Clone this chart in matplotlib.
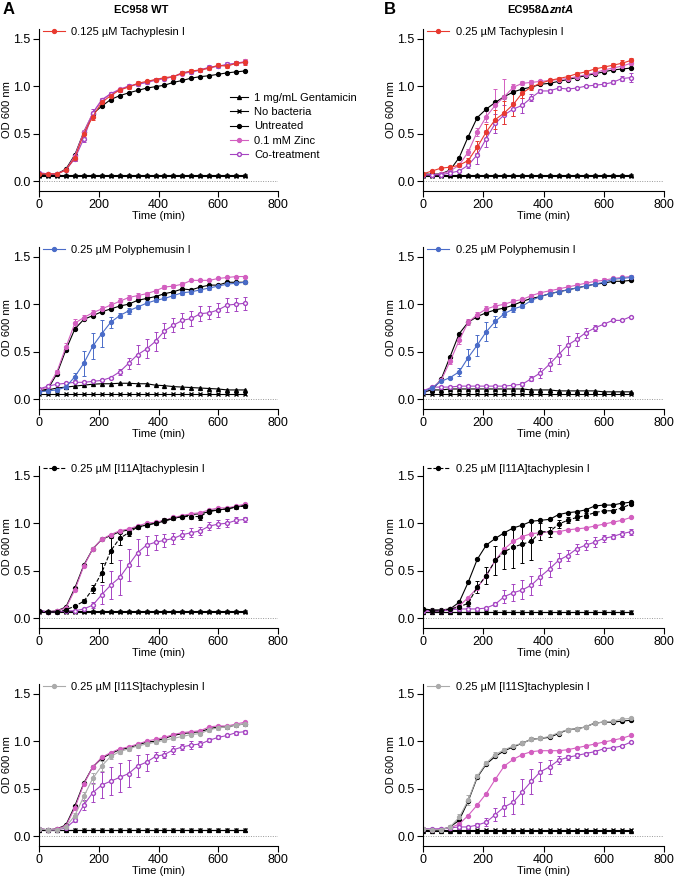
import matplotlib.pyplot as plt
from matplotlib.lines import Line2D

plt.rcParams['font.family'] = ['Liberation Sans', 'DejaVu Sans']
plt.rcParams['font.size'] = 8

time_min = [0, 30, 60, 90, 120, 150, 180, 210, 240, 270, 300, 330,
            360, 390, 420, 450, 480, 510, 540, 570, 600, 630, 660, 690]

legend_labels = ["1 mg/mL Gentamicin", "No bacteria", "Untreated", "0.1 mM Zinc", "Co-treatment"]

# ---- A1: EC958 WT, tachyplesin I
a1_genta = [0.07, 0.07, 0.07, 0.07, 0.07, 0.07, 0.07, 0.07, 0.07, 0.07, 0.07, 0.07,
            0.07, 0.07, 0.07, 0.07, 0.07, 0.07, 0.07, 0.07, 0.07, 0.07, 0.07, 0.07]
a1_nobact = [0.06, 0.06, 0.06, 0.06, 0.06, 0.06, 0.06, 0.06, 0.06, 0.06, 0.06, 0.06,
             0.06, 0.06, 0.06, 0.06, 0.06, 0.06, 0.06, 0.06, 0.06, 0.06, 0.06, 0.06]
a1_untreated = [0.07, 0.07, 0.08, 0.13, 0.28, 0.52, 0.71, 0.79, 0.86, 0.90, 0.93, 0.955,
                0.98, 0.995, 1.01, 1.04, 1.06, 1.085, 1.10, 1.11, 1.125, 1.14, 1.15, 1.16]
a1_zinc = [0.09, 0.08, 0.08, 0.12, 0.27, 0.52, 0.72, 0.86, 0.92, 0.97, 1.00, 1.02,
           1.04, 1.06, 1.08, 1.10, 1.13, 1.15, 1.17, 1.19, 1.21, 1.22, 1.24, 1.26]
a1_cotreat = [0.09, 0.08, 0.08, 0.12, 0.24, 0.45, 0.72, 0.85, 0.92, 0.96, 1.00, 1.02,
              1.04, 1.07, 1.08, 1.10, 1.14, 1.15, 1.17, 1.20, 1.21, 1.23, 1.24, 1.25]
a1_cotreat_err = [0.01, 0.01, 0.01, 0.01, 0.02, 0.04, 0.04, 0.03, 0.02, 0.02, 0.02, 0.02,
                  0.02, 0.02, 0.02, 0.02, 0.02, 0.02, 0.02, 0.02, 0.02, 0.02, 0.02, 0.02]
a1_peptide = [0.08, 0.08, 0.08, 0.12, 0.25, 0.50, 0.68, 0.83, 0.90, 0.96, 0.99, 1.03,
              1.05, 1.07, 1.09, 1.10, 1.14, 1.16, 1.17, 1.19, 1.22, 1.21, 1.24, 1.25]
a1_peptide_err = [0.01, 0.01, 0.01, 0.01, 0.03, 0.03, 0.03, 0.03, 0.03, 0.02, 0.02, 0.02,
                  0.02, 0.02, 0.02, 0.02, 0.02, 0.02, 0.02, 0.02, 0.02, 0.02, 0.02, 0.03]

# ---- B1: EC958 zntA, tachyplesin I
b1_genta = [0.07, 0.07, 0.07, 0.07, 0.07, 0.07, 0.07, 0.07, 0.07, 0.07, 0.07, 0.07,
            0.07, 0.07, 0.07, 0.07, 0.07, 0.07, 0.07, 0.07, 0.07, 0.07, 0.07, 0.07]
b1_nobact = [0.06, 0.06, 0.06, 0.06, 0.06, 0.06, 0.06, 0.06, 0.06, 0.06, 0.06, 0.06,
             0.06, 0.06, 0.06, 0.06, 0.06, 0.06, 0.06, 0.06, 0.06, 0.06, 0.06, 0.06]
b1_untreated = [0.08, 0.075, 0.08, 0.12, 0.25, 0.47, 0.67, 0.76, 0.83, 0.89, 0.94, 0.97,
                0.99, 1.02, 1.03, 1.05, 1.07, 1.09, 1.11, 1.13, 1.15, 1.17, 1.18, 1.19]
b1_zinc = [0.07, 0.07, 0.08, 0.11, 0.17, 0.31, 0.52, 0.68, 0.80, 0.89, 0.99, 1.03,
           1.04, 1.05, 1.06, 1.07, 1.08, 1.10, 1.12, 1.14, 1.17, 1.19, 1.21, 1.24]
b1_zinc_err = [0.01, 0.01, 0.01, 0.01, 0.01, 0.03, 0.04, 0.06, 0.17, 0.19, 0.03, 0.02,
               0.02, 0.02, 0.02, 0.02, 0.02, 0.02, 0.02, 0.02, 0.02, 0.02, 0.02, 0.02]
b1_cotreat = [0.07, 0.07, 0.07, 0.09, 0.11, 0.17, 0.28, 0.45, 0.61, 0.70, 0.76, 0.80,
              0.88, 0.95, 0.95, 0.98, 0.97, 0.98, 1.00, 1.01, 1.02, 1.04, 1.08, 1.09]
b1_cotreat_err = [0.01, 0.01, 0.01, 0.01, 0.01, 0.03, 0.10, 0.09, 0.10, 0.10, 0.07, 0.08,
                  0.04, 0.02, 0.02, 0.02, 0.01, 0.01, 0.01, 0.02, 0.02, 0.02, 0.03, 0.05]
b1_peptide = [0.08, 0.11, 0.14, 0.15, 0.17, 0.22, 0.36, 0.52, 0.65, 0.72, 0.81, 0.93,
              0.99, 1.03, 1.06, 1.08, 1.10, 1.13, 1.15, 1.18, 1.20, 1.22, 1.24, 1.27]
b1_peptide_err = [0.01, 0.01, 0.01, 0.01, 0.02, 0.03, 0.06, 0.08, 0.10, 0.12, 0.12, 0.05,
                  0.03, 0.02, 0.02, 0.02, 0.02, 0.02, 0.02, 0.02, 0.02, 0.02, 0.03, 0.03]

# ---- A2: EC958 WT, polyphemusin I
a2_genta = [0.08, 0.10, 0.12, 0.13, 0.14, 0.15, 0.16, 0.165, 0.165, 0.17, 0.17, 0.165,
            0.165, 0.15, 0.145, 0.135, 0.13, 0.125, 0.12, 0.115, 0.11, 0.10, 0.10, 0.10]
a2_nobact = [0.06, 0.06, 0.06, 0.06, 0.06, 0.06, 0.06, 0.06, 0.06, 0.06, 0.06, 0.06,
             0.06, 0.06, 0.06, 0.06, 0.06, 0.06, 0.06, 0.06, 0.06, 0.06, 0.06, 0.06]
a2_untreated = [0.09, 0.11, 0.27, 0.52, 0.74, 0.84, 0.88, 0.92, 0.95, 0.98, 1.00, 1.04,
                1.06, 1.08, 1.11, 1.13, 1.16, 1.15, 1.18, 1.20, 1.20, 1.23, 1.23, 1.23]
a2_zinc = [0.10, 0.13, 0.29, 0.55, 0.80, 0.86, 0.91, 0.95, 0.99, 1.03, 1.07, 1.09,
           1.11, 1.14, 1.18, 1.19, 1.21, 1.25, 1.25, 1.25, 1.27, 1.28, 1.29, 1.29]
a2_zinc_err = [0.01, 0.01, 0.02, 0.04, 0.04, 0.03, 0.03, 0.03, 0.03, 0.03, 0.03, 0.03,
               0.02, 0.02, 0.02, 0.02, 0.02, 0.01, 0.01, 0.01, 0.01, 0.01, 0.01, 0.01]
a2_cotreat = [0.11, 0.14, 0.16, 0.17, 0.18, 0.18, 0.19, 0.20, 0.23, 0.29, 0.38, 0.47,
              0.53, 0.61, 0.72, 0.78, 0.83, 0.85, 0.90, 0.91, 0.94, 0.99, 1.00, 1.01]
a2_cotreat_err = [0.01, 0.01, 0.01, 0.01, 0.01, 0.01, 0.01, 0.01, 0.01, 0.03, 0.06, 0.10,
                  0.10, 0.10, 0.08, 0.07, 0.08, 0.08, 0.08, 0.07, 0.07, 0.07, 0.07, 0.07]
a2_peptide = [0.08, 0.09, 0.10, 0.13, 0.24, 0.38, 0.56, 0.69, 0.81, 0.88, 0.93, 0.97,
              1.01, 1.04, 1.06, 1.09, 1.12, 1.13, 1.15, 1.17, 1.19, 1.21, 1.22, 1.23]
a2_peptide_err = [0.01, 0.01, 0.01, 0.02, 0.04, 0.13, 0.14, 0.14, 0.06, 0.03, 0.03, 0.02,
                  0.02, 0.02, 0.02, 0.02, 0.02, 0.02, 0.02, 0.02, 0.01, 0.01, 0.01, 0.01]

# ---- B2: EC958 zntA, polyphemusin I
b2_genta = [0.08, 0.10, 0.10, 0.11, 0.11, 0.11, 0.11, 0.11, 0.11, 0.11, 0.11, 0.11,
            0.10, 0.10, 0.10, 0.09, 0.09, 0.09, 0.09, 0.09, 0.08, 0.08, 0.08, 0.08]
b2_nobact = [0.06, 0.06, 0.06, 0.06, 0.06, 0.06, 0.06, 0.06, 0.06, 0.06, 0.06, 0.06,
             0.06, 0.06, 0.06, 0.06, 0.06, 0.06, 0.06, 0.06, 0.06, 0.06, 0.06, 0.06]
b2_untreated = [0.08, 0.10, 0.21, 0.45, 0.69, 0.81, 0.87, 0.91, 0.94, 0.96, 0.99, 1.03,
                1.06, 1.08, 1.11, 1.13, 1.15, 1.17, 1.19, 1.21, 1.22, 1.24, 1.24, 1.25]
b2_zinc = [0.08, 0.12, 0.20, 0.40, 0.62, 0.81, 0.89, 0.95, 0.98, 1.00, 1.03, 1.05,
           1.09, 1.12, 1.14, 1.16, 1.18, 1.20, 1.22, 1.24, 1.25, 1.27, 1.28, 1.29]
b2_zinc_err = [0.01, 0.01, 0.01, 0.03, 0.04, 0.03, 0.03, 0.03, 0.03, 0.02, 0.02, 0.02,
               0.02, 0.02, 0.02, 0.02, 0.02, 0.02, 0.02, 0.02, 0.02, 0.02, 0.02, 0.02]
b2_cotreat = [0.09, 0.13, 0.13, 0.13, 0.14, 0.14, 0.14, 0.14, 0.14, 0.14, 0.15, 0.16,
              0.22, 0.28, 0.37, 0.47, 0.57, 0.63, 0.70, 0.75, 0.79, 0.83, 0.83, 0.87]
b2_cotreat_err = [0.01, 0.01, 0.01, 0.01, 0.01, 0.01, 0.01, 0.01, 0.01, 0.01, 0.01, 0.02,
                  0.03, 0.05, 0.07, 0.10, 0.10, 0.07, 0.05, 0.03, 0.01, 0.01, 0.01, 0.01]
b2_peptide = [0.08, 0.12, 0.19, 0.23, 0.29, 0.44, 0.57, 0.71, 0.82, 0.90, 0.95, 0.98,
              1.04, 1.08, 1.11, 1.13, 1.15, 1.17, 1.19, 1.21, 1.23, 1.26, 1.27, 1.28]
b2_peptide_err = [0.01, 0.01, 0.01, 0.02, 0.04, 0.09, 0.11, 0.10, 0.06, 0.03, 0.03, 0.02,
                  0.02, 0.02, 0.02, 0.02, 0.02, 0.02, 0.02, 0.02, 0.02, 0.02, 0.02, 0.02]

# ---- A3: EC958 WT, [I11A]tachyplesin I
a3_genta = [0.08, 0.08, 0.08, 0.08, 0.08, 0.08, 0.08, 0.08, 0.08, 0.08, 0.08, 0.08,
            0.08, 0.08, 0.08, 0.08, 0.08, 0.08, 0.08, 0.08, 0.08, 0.08, 0.08, 0.08]
a3_nobact = [0.07, 0.07, 0.07, 0.07, 0.07, 0.07, 0.07, 0.07, 0.07, 0.07, 0.07, 0.07,
             0.07, 0.07, 0.07, 0.07, 0.07, 0.07, 0.07, 0.07, 0.07, 0.07, 0.07, 0.07]
a3_untreated = [0.08, 0.07, 0.08, 0.12, 0.32, 0.56, 0.73, 0.83, 0.87, 0.91, 0.93, 0.96,
                0.98, 1.00, 1.02, 1.05, 1.07, 1.09, 1.10, 1.12, 1.14, 1.15, 1.17, 1.19]
a3_zinc = [0.08, 0.07, 0.08, 0.11, 0.30, 0.55, 0.73, 0.83, 0.88, 0.92, 0.94, 0.97,
           1.00, 1.01, 1.03, 1.06, 1.08, 1.10, 1.11, 1.14, 1.16, 1.16, 1.18, 1.20]
a3_cotreat = [0.08, 0.07, 0.07, 0.08, 0.08, 0.10, 0.14, 0.25, 0.35, 0.43, 0.56, 0.69,
              0.77, 0.80, 0.82, 0.84, 0.88, 0.90, 0.92, 0.97, 0.99, 1.00, 1.03, 1.04]
a3_cotreat_err = [0.01, 0.01, 0.01, 0.01, 0.01, 0.01, 0.03, 0.10, 0.15, 0.18, 0.17, 0.14,
                  0.10, 0.08, 0.07, 0.06, 0.05, 0.05, 0.04, 0.04, 0.04, 0.04, 0.03, 0.03]
a3_peptide = [0.08, 0.07, 0.07, 0.09, 0.13, 0.18, 0.31, 0.48, 0.71, 0.84, 0.90, 0.96,
              0.98, 1.00, 1.03, 1.05, 1.07, 1.07, 1.07, 1.13, 1.14, 1.15, 1.17, 1.18]
a3_peptide_err = [0.01, 0.01, 0.01, 0.01, 0.01, 0.02, 0.04, 0.10, 0.13, 0.07, 0.03, 0.02,
                  0.02, 0.02, 0.02, 0.02, 0.02, 0.03, 0.04, 0.02, 0.02, 0.02, 0.02, 0.02]

# ---- B3: EC958 zntA, [I11A]tachyplesin I
b3_genta = [0.07, 0.07, 0.07, 0.07, 0.07, 0.07, 0.07, 0.07, 0.07, 0.07, 0.07, 0.07,
            0.07, 0.07, 0.07, 0.07, 0.07, 0.07, 0.07, 0.07, 0.07, 0.07, 0.07, 0.07]
b3_nobact = [0.07, 0.07, 0.07, 0.07, 0.07, 0.07, 0.07, 0.07, 0.07, 0.07, 0.07, 0.07,
             0.07, 0.07, 0.07, 0.07, 0.07, 0.07, 0.07, 0.07, 0.07, 0.07, 0.07, 0.07]
b3_untreated = [0.10, 0.09, 0.09, 0.10, 0.17, 0.38, 0.62, 0.77, 0.84, 0.90, 0.95, 0.98,
                1.02, 1.03, 1.04, 1.09, 1.11, 1.12, 1.14, 1.18, 1.19, 1.19, 1.21, 1.22]
b3_zinc = [0.08, 0.08, 0.08, 0.10, 0.13, 0.22, 0.32, 0.45, 0.61, 0.73, 0.81, 0.86,
           0.89, 0.90, 0.91, 0.91, 0.93, 0.94, 0.95, 0.97, 0.99, 1.01, 1.03, 1.06]
b3_cotreat = [0.08, 0.08, 0.08, 0.09, 0.10, 0.10, 0.10, 0.11, 0.15, 0.23, 0.27, 0.30,
              0.35, 0.44, 0.52, 0.61, 0.66, 0.73, 0.77, 0.80, 0.84, 0.86, 0.89, 0.91]
b3_cotreat_err = [0.01, 0.01, 0.01, 0.01, 0.01, 0.01, 0.01, 0.01, 0.02, 0.07, 0.09, 0.10,
                  0.10, 0.09, 0.08, 0.08, 0.06, 0.05, 0.05, 0.05, 0.04, 0.03, 0.03, 0.03]
b3_peptide = [0.10, 0.08, 0.08, 0.10, 0.12, 0.16, 0.33, 0.45, 0.61, 0.70, 0.75, 0.78,
              0.81, 0.91, 0.91, 0.99, 1.03, 1.06, 1.08, 1.11, 1.13, 1.13, 1.16, 1.20]
b3_peptide_err = [0.01, 0.01, 0.01, 0.01, 0.01, 0.03, 0.06, 0.09, 0.15, 0.18, 0.22, 0.20,
                  0.20, 0.09, 0.05, 0.04, 0.03, 0.03, 0.03, 0.02, 0.01, 0.01, 0.01, 0.01]

# ---- A4: EC958 WT, [I11S]tachyplesin I
a4_genta = [0.07, 0.07, 0.07, 0.07, 0.07, 0.07, 0.07, 0.07, 0.07, 0.07, 0.07, 0.07,
            0.07, 0.07, 0.07, 0.07, 0.07, 0.07, 0.07, 0.07, 0.07, 0.07, 0.07, 0.07]
a4_nobact = [0.07, 0.07, 0.07, 0.07, 0.07, 0.07, 0.07, 0.07, 0.07, 0.07, 0.07, 0.07,
             0.07, 0.07, 0.07, 0.07, 0.07, 0.07, 0.07, 0.07, 0.07, 0.07, 0.07, 0.07]
a4_untreated = [0.08, 0.07, 0.08, 0.12, 0.32, 0.56, 0.73, 0.82, 0.87, 0.91, 0.93, 0.96,
                0.99, 1.00, 1.03, 1.06, 1.08, 1.09, 1.10, 1.13, 1.15, 1.15, 1.17, 1.18]
a4_zinc = [0.08, 0.07, 0.08, 0.11, 0.30, 0.55, 0.73, 0.83, 0.88, 0.92, 0.94, 0.97,
           1.00, 1.02, 1.04, 1.07, 1.09, 1.10, 1.11, 1.15, 1.16, 1.16, 1.18, 1.20]
a4_cotreat = [0.08, 0.07, 0.07, 0.09, 0.17, 0.33, 0.46, 0.54, 0.58, 0.62, 0.66, 0.74,
              0.78, 0.84, 0.86, 0.91, 0.94, 0.96, 0.97, 1.01, 1.04, 1.06, 1.09, 1.10]
a4_cotreat_err = [0.01, 0.01, 0.01, 0.01, 0.02, 0.05, 0.10, 0.14, 0.15, 0.15, 0.14, 0.12,
                  0.09, 0.05, 0.04, 0.04, 0.03, 0.04, 0.03, 0.02, 0.02, 0.02, 0.02, 0.02]
a4_peptide = [0.08, 0.07, 0.07, 0.10, 0.22, 0.42, 0.61, 0.74, 0.84, 0.89, 0.92, 0.95,
              0.97, 0.99, 1.01, 1.03, 1.05, 1.07, 1.08, 1.12, 1.14, 1.15, 1.17, 1.18]
a4_peptide_err = [0.01, 0.01, 0.01, 0.01, 0.03, 0.05, 0.06, 0.05, 0.03, 0.02, 0.02, 0.02,
                  0.02, 0.02, 0.02, 0.02, 0.02, 0.02, 0.02, 0.02, 0.02, 0.02, 0.02, 0.02]

# ---- B4: EC958 zntA, [I11S]tachyplesin I
b4_genta = [0.06, 0.06, 0.06, 0.06, 0.06, 0.06, 0.06, 0.06, 0.06, 0.06, 0.06, 0.06,
            0.06, 0.06, 0.06, 0.06, 0.06, 0.06, 0.06, 0.06, 0.06, 0.06, 0.06, 0.06]
b4_nobact = [0.07, 0.07, 0.07, 0.07, 0.07, 0.07, 0.07, 0.07, 0.07, 0.07, 0.07, 0.07,
             0.07, 0.07, 0.07, 0.07, 0.07, 0.07, 0.07, 0.07, 0.07, 0.07, 0.07, 0.07]
b4_untreated = [0.08, 0.07, 0.07, 0.10, 0.17, 0.37, 0.62, 0.76, 0.84, 0.90, 0.94, 0.98,
                1.02, 1.03, 1.04, 1.08, 1.12, 1.13, 1.15, 1.19, 1.20, 1.20, 1.21, 1.22]
b4_zinc = [0.08, 0.07, 0.08, 0.09, 0.13, 0.22, 0.33, 0.45, 0.60, 0.74, 0.81, 0.86,
           0.89, 0.90, 0.90, 0.90, 0.91, 0.93, 0.95, 0.97, 0.99, 1.01, 1.03, 1.06]
b4_cotreat = [0.08, 0.08, 0.08, 0.09, 0.10, 0.10, 0.12, 0.15, 0.23, 0.31, 0.36, 0.47,
              0.58, 0.68, 0.73, 0.80, 0.83, 0.85, 0.87, 0.89, 0.92, 0.93, 0.95, 0.99]
b4_cotreat_err = [0.01, 0.01, 0.01, 0.01, 0.01, 0.01, 0.02, 0.04, 0.07, 0.10, 0.12, 0.13,
                  0.13, 0.10, 0.07, 0.04, 0.03, 0.03, 0.02, 0.02, 0.01, 0.01, 0.01, 0.01]
b4_peptide = [0.08, 0.07, 0.07, 0.10, 0.20, 0.38, 0.63, 0.77, 0.86, 0.91, 0.95, 0.98,
              1.02, 1.03, 1.05, 1.09, 1.12, 1.13, 1.15, 1.19, 1.20, 1.21, 1.23, 1.24]
b4_peptide_err = [0.01, 0.01, 0.01, 0.01, 0.04, 0.05, 0.03, 0.02, 0.03, 0.02, 0.01, 0.01,
                  0.01, 0.01, 0.01, 0.01, 0.01, 0.01, 0.01, 0.01, 0.01, 0.01, 0.01, 0.01]

peptide_labels = ["0.125 µM Tachyplesin I", "0.25 µM Tachyplesin I",
                  "0.25 µM Polyphemusin I", "0.25 µM Polyphemusin I",
                  "0.25 µM [I11A]tachyplesin I", "0.25 µM [I11A]tachyplesin I",
                  "0.25 µM [I11S]tachyplesin I", "0.25 µM [I11S]tachyplesin I"]

RED = '#e8392f'
BLUE = '#4a6cc8'
GRAY = '#ababab'
ZINC = '#d35fc0'
COT = '#a544c2'

peptide_styles = [(RED, '-'), (RED, '-'), (BLUE, '-'), (BLUE, '-'),
                  ('black', '--'), ('black', '--'), (GRAY, '-'), (GRAY, '-')]

panels = [
    (a1_genta, a1_nobact, a1_untreated, a1_zinc, None, a1_cotreat, a1_cotreat_err, a1_peptide, a1_peptide_err),
    (b1_genta, b1_nobact, b1_untreated, b1_zinc, b1_zinc_err, b1_cotreat, b1_cotreat_err, b1_peptide, b1_peptide_err),
    (a2_genta, a2_nobact, a2_untreated, a2_zinc, a2_zinc_err, a2_cotreat, a2_cotreat_err, a2_peptide, a2_peptide_err),
    (b2_genta, b2_nobact, b2_untreated, b2_zinc, b2_zinc_err, b2_cotreat, b2_cotreat_err, b2_peptide, b2_peptide_err),
    (a3_genta, a3_nobact, a3_untreated, a3_zinc, None, a3_cotreat, a3_cotreat_err, a3_peptide, a3_peptide_err),
    (b3_genta, b3_nobact, b3_untreated, b3_zinc, None, b3_cotreat, b3_cotreat_err, b3_peptide, b3_peptide_err),
    (a4_genta, a4_nobact, a4_untreated, a4_zinc, None, a4_cotreat, a4_cotreat_err, a4_peptide, a4_peptide_err),
    (b4_genta, b4_nobact, b4_untreated, b4_zinc, None, b4_cotreat, b4_cotreat_err, b4_peptide, b4_peptide_err),
]

W, H = 674, 885
fig = plt.figure(figsize=(W / 100, H / 100), dpi=100)

# axes boxes in pixels: (left, right) per column, bottom per row
col_x = [(39, 278), (423, 664)]
row_bottom = [191, 409, 628, 846]
ax_h = 162

eb_kw = dict(lw=0.8, ms=2.8, capsize=1.5, elinewidth=0.7, capthick=0.7)


def handle(color, marker, ls='-', mfc=None):
    return Line2D([], [], color=color, marker=marker, ls=ls, lw=0.8, ms=2.8,
                  mfc=mfc if mfc else color)


for i, (genta, nobact, untr, zinc, zinc_err, cot, cot_err, pep, pep_err) in enumerate(panels):
    row, col = i // 2, i % 2
    x0, x1 = col_x[col]
    yb = row_bottom[row]
    ax = fig.add_axes([x0 / W, 1 - yb / H, (x1 - x0) / W, ax_h / H])

    ax.axhline(0, color='#999999', ls=(0, (1, 1.5)), lw=0.7, zorder=0)
    ax.errorbar(time_min, genta, color='black', marker='^', **eb_kw)
    ax.errorbar(time_min, nobact, color='black', marker='x', **eb_kw)
    ax.errorbar(time_min, untr, color='black', marker='o', **eb_kw)
    ax.errorbar(time_min, zinc, yerr=zinc_err, color=ZINC, marker='o', **eb_kw)
    ax.errorbar(time_min, cot, yerr=cot_err, color=COT, marker='o', mfc='white', **eb_kw)
    pc, pls = peptide_styles[i]
    ax.errorbar(time_min, pep, yerr=pep_err, color=pc, ls=pls, marker='o', **eb_kw)

    ax.set_xlim(0, 800)
    ax.set_ylim(-0.1, 1.6)
    ax.set_xticks([0, 200, 400, 600, 800])
    ax.set_yticks([0.0, 0.5, 1.0, 1.5])
    ax.set_yticklabels(['0.0', '0.5', '1.0', '1.5'])
    for s in ['top', 'right']:
        ax.spines[s].set_visible(False)
    for s in ['left', 'bottom']:
        ax.spines[s].set_linewidth(0.8)
    ax.tick_params(direction='out', length=4, width=0.8, labelsize=9, pad=2)
    ax.set_xlabel('Time (min)', fontsize=8, labelpad=0)
    ax.set_ylabel('OD 600 nm', fontsize=8, labelpad=1)

    ax.legend(handles=[handle(pc, 'o', pls)], labels=[peptide_labels[i]], loc='upper left',
              bbox_to_anchor=(0.015, 1.01), frameon=False, fontsize=8, handlelength=2.0,
              handletextpad=0.6, borderpad=0, borderaxespad=0)
    if i == 0:
        main_handles = [handle('black', '^'), handle('black', 'x'), handle('black', 'o'),
                        handle(ZINC, 'o'), handle(COT, 'o', mfc='white')]
        fig.legend(handles=main_handles, labels=legend_labels, loc='upper left',
                   bbox_to_anchor=(230 / W, 1 - 93 / H), frameon=False, fontsize=8,
                   handlelength=1.6, handletextpad=0.6, labelspacing=0.38,
                   borderpad=0, borderaxespad=0)

fig.text(3 / W, 1 - 10 / H, 'A', fontsize=12, fontweight='bold', va='center', ha='left')
fig.text(141 / W, 1 - 10 / H, 'EC958 WT', fontsize=8, fontweight='bold', va='center', ha='center')
fig.text(384 / W, 1 - 10 / H, 'B', fontsize=12, fontweight='bold', va='center', ha='left')
fig.text(549 / W, 1 - 10 / H, 'EC958Δ', fontsize=8, fontweight='bold', va='center', ha='right')
fig.text(549 / W, 1 - 10 / H, 'zntA', fontsize=8, fontweight='bold', fontstyle='italic',
         va='center', ha='left')

fig.savefig('out.png', dpi=100)
